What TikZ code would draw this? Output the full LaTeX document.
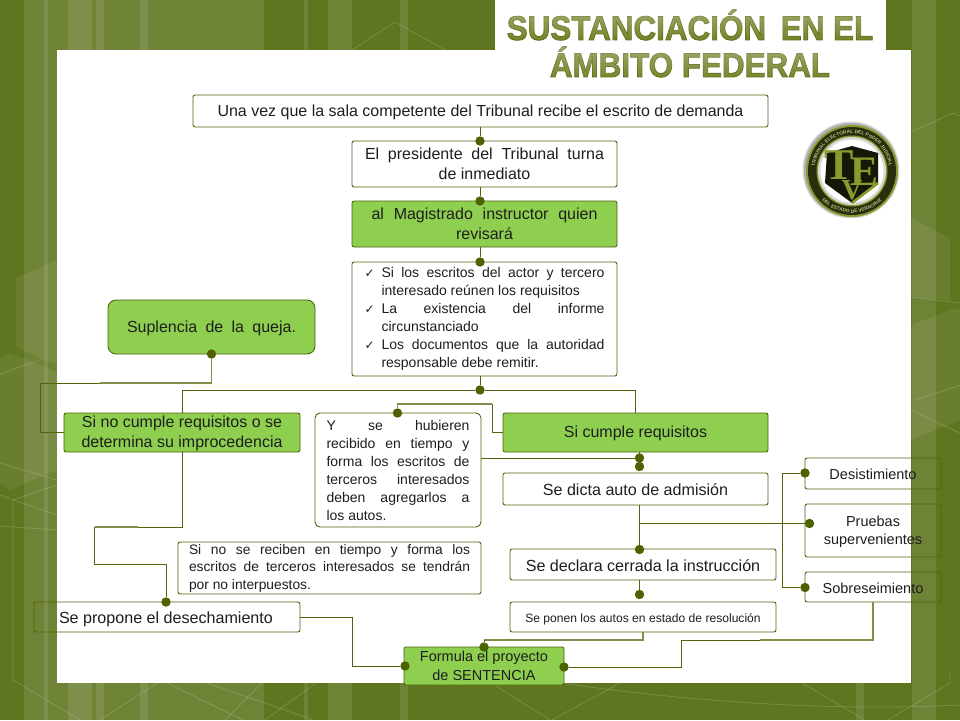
\documentclass[tikz,border=0pt]{standalone}
\usepackage{fontspec}
\setmainfont{Liberation Sans}
\newfontfamily\serifseal{Liberation Serif}
\newfontfamily\chkfont{DejaVu Sans}
\usetikzlibrary{fadings,decorations.text}
\definecolor{bgdark}{HTML}{5F7520}
\definecolor{boxgreen}{HTML}{8FCF50}
\definecolor{linkcol}{HTML}{50640C}
\definecolor{linklite}{HTML}{7F8F4A}
\definecolor{dotcol}{HTML}{4E6300}
\definecolor{txt}{HTML}{1E1E1E}
\definecolor{titlefill}{HTML}{76872A}
\definecolor{sealolive}{HTML}{8A9A2E}
\newcommand{\fs}[2]{\fontsize{#1}{#2}\selectfont}
\newcommand{\jl}[2]{\makebox[#1pt][s]{#2}}
\newcommand{\chk}{\makebox[17pt][l]{\chkfont\fontsize{12}{12}\selectfont ✓}}
\newcommand{\bx}[8][0]{%
  \pgfmathsetmacro{\bw}{#5-#3}\pgfmathsetmacro{\bh}{#6-#4}%
  \pgfmathsetmacro{\bcx}{(#3+#5)/2}\pgfmathsetmacro{\bcy}{(#4+#6)/2}%
  \node[#7,minimum width=\bw pt,minimum height=\bh pt] (#2) at (\bcx,\bcy) {};
  \node[#7,draw=none,fill=none,yshift=-#1pt] (#2t) at (\bcx,\bcy) {#8};}
\tikzset{
  anybox/.style={draw=linkcol,line width=0.9pt,rounded corners=2.2pt,inner sep=0pt,outer sep=0pt,align=center,text=txt},
  whitebox/.style={anybox,fill=white},
  greenbox/.style={anybox,fill=boxgreen},
  openbox/.style={anybox},
  link/.style={draw=linkcol,line width=0.9pt},
  linkl/.style={draw=linklite,line width=1.1pt},
  dot/.style={circle,fill=dotcol,minimum size=9.4pt,inner sep=0pt,outer sep=0pt},
  stripea/.style={fill=white,fill opacity=0.10,draw=none},
  faint/.style={draw=white,draw opacity=0.17,line width=0.8pt},
  hexa/.style={fill=white,fill opacity=0.07,draw=none},
  titletext/.style={text=titlefill,font=\fs{31.4}{31.4}\bfseries,inner sep=0pt}
}
\begin{document}
\begin{tikzpicture}[x=1pt,y=-1pt]
\useasboundingbox (0,0) rectangle (960,720);
% background
\fill[bgdark] (0,0) rectangle (960,720);
\fill[stripea] (24,0) rectangle (264,720);
\fill[stripea] (68,0) rectangle (92,720);
\fill[stripea] (96,0) rectangle (104,720);
\fill[stripea] (140,0) rectangle (148,720);
\fill[stripea] (44,0) rectangle (48,720);
\fill[stripea] (304,0) rectangle (308,720);
\fill[stripea] (328,0) rectangle (352,720);
\fill[stripea] (400,0) rectangle (408,720);
\fill[stripea] (856,0) rectangle (864,720);
\fill[stripea] (912,0) rectangle (936,720);
% faint hexagons and lines
\fill[hexa] (57,260) -- (16,278) -- (16,347) -- (57,365) -- cycle;
\fill[hexa] (10,353) -- (0,358) -- (0,483) -- (10,490) -- (57,470) -- (57,372) -- cycle;
\fill[hexa] (911,218) -- (950,238) -- (950,300) -- (911,297) -- cycle;
\fill[hexa] (911,325) -- (955,308) -- (960,310) -- (960,420) -- (911,440) -- cycle;
\draw[faint] (0,374) -- (42,359);
\draw[faint] (0,463) -- (57,480);
\draw[faint] (13,500) -- (57,485);
\draw[faint] (13,500) -- (13,680) -- (80,720);
\draw[faint] (0,526) -- (57,530);
\draw[faint] (0,495) -- (57,515);
\draw[faint] (911,132) -- (953,113) -- (960,116);
\draw[faint] (911,297) -- (960,303);
\draw[faint] (950,670) -- (950,683) -- (888,720);
\draw[faint] (915,400) -- (960,385);
\draw[faint] (911,410) -- (960,433);
\draw[faint] (100,720) -- (157,683);
\draw[faint] (167,683) -- (243,720);
\draw[faint] (207,683) -- (313,720);
\draw[faint] (225,720) -- (262,683);
\draw[faint] (265,720) -- (320,680);
\draw[faint] (480,676) -- (550,720);
\draw[faint] (552,720) -- (620,683);
\draw[faint] (802,683) -- (865,720);
\draw[faint] (560,683) .. controls (680,700) and (820,712) .. (960,705);
\draw[faint] (352,50) -- (395,22) -- (445,50);
% white panels
\fill[white] (57,50) rectangle (911,683);
\fill[white] (495,0) rectangle (886,50);
% title
\node[titletext] (title1) at (690,25) {\scalebox{1}[1.09]{\special{pdf:code 2 Tr 0.7 w 0.36 0.42 0.10 RG}SUSTANCIACIÓN\hspace{6pt} EN EL}};
\node[titletext] (title2) at (690,62) {\scalebox{1}[1.09]{\special{pdf:code 2 Tr 0.7 w 0.36 0.42 0.10 RG}ÁMBITO FEDERAL}};
\special{pdf:code 0 Tr}
\fill[white,fill opacity=0.30,path fading=south] (500,10) rectangle (880,38);
\fill[white,fill opacity=0.30,path fading=south] (500,47) rectangle (880,78);
% seal
\begin{scope}[shift={(852,171)},x=1pt,y=1pt]
  \fill[black!55,opacity=0.25] (-1,1) circle[radius=48.5pt];
  \fill[black!70,opacity=0.3] (-1,1) circle[radius=47.2pt];
  \fill[sealolive] (0,0) circle[radius=46pt];
  \fill[black!70!sealolive] (0,0) circle[radius=44pt];
  \fill[sealolive] (0,0) circle[radius=35.5pt];
  \fill[black!15] (0,0) circle[radius=34pt];
  \fill[white] (0,0) circle[radius=31.5pt];
  \fill[black!85!sealolive] (-25,18) -- (-27,-12) -- (0,-32) -- (26,-12) -- (26,18) -- (0,25) -- cycle;
  \draw[sealolive,line width=2.6pt] (0,-32) -- (26,-12);
  \node[text=sealolive,inner sep=0pt,font=\serifseal\bfseries\fs{44}{44}] (sealT) at (-13,6) {T};
  \node[text=sealolive,inner sep=0pt,font=\serifseal\bfseries\fs{42}{42}] (sealE) at (12,-1) {E};
  \node[text=sealolive,inner sep=0pt,font=\serifseal\bfseries\fs{29}{29}] (sealV) at (0,-19) {V};
  \path[decorate,decoration={text along path,text color=sealolive!60!white,text align=center,
    text={|\fs{4.8}{5}\bfseries|TRIBUNAL ELECTORAL DEL PODER JUDICIAL}}]
    (195:37.5pt) arc[start angle=195,end angle=-15,radius=37.5pt];
  \path[decorate,decoration={text along path,text color=sealolive!60!white,text align=center,
    text={|\fs{4.8}{5}\bfseries|DEL ESTADO DE VERACRUZ}}]
    (215:42pt) arc[start angle=215,end angle=325,radius=42pt];
\end{scope}
% boxes
\bx[1.5]{recibe}{193}{95}{768}{127}{whitebox,font=\fs{16}{20}}{Una vez que la sala competente del Tribunal recibe el escrito de demanda}
\bx{presidente}{352}{141}{617}{187}{whitebox,font=\fs{16}{20}}{\jl{239}{El presidente del Tribunal turna}\\de inmediato}
\bx{magistrado}{352}{201}{617}{247}{greenbox,font=\fs{16}{20}}{\jl{226}{al Magistrado instructor quien}\\revisará}
\bx{lista}{352}{262}{617}{376}{whitebox,font=\fs{14}{18},align=left}{\chk\jl{223}{Si los escritos del actor y tercero}\\\hspace*{17pt}interesado reúnen los requisitos\\\chk\jl{223}{La existencia del informe}\\\hspace*{17pt}circunstanciado\\\chk\jl{223}{Los documentos que la autoridad}\\\hspace*{17pt}responsable debe remitir.}
\bx[1]{suplencia}{108}{300}{315}{354}{greenbox,rounded corners=8pt,font=\fs{16}{20}}{\jl{169}{Suplencia de la queja.}}
\bx[1]{nocumple}{64}{413}{300}{452}{greenbox,font=\fs{16}{19.5}}{Si no cumple requisitos o se\\determina su improcedencia}
\bx{hubieren}{315}{413}{481}{527}{whitebox,rounded corners=5pt,font=\fs{14}{18},align=left}{\jl{143}{Y se hubieren}\\\jl{143}{recibido en tiempo y}\\\jl{143}{forma los escritos de}\\\jl{143}{terceros interesados}\\\jl{143}{deben agregarlos a}\\\makebox[143pt][l]{los autos.}}
\bx[1]{sicumple}{503}{413}{768}{452}{greenbox,font=\fs{16}{19}}{Si cumple requisitos}
\bx[1]{dicta}{503}{473}{768}{505}{whitebox,font=\fs{16.1}{20}}{Se dicta auto de admisión}
\bx{norecibe}{178}{542}{481}{594}{whitebox,font=\fs{13.8}{17.5},align=left}{\jl{281}{Si no se reciben en tiempo y forma los}\\\jl{281}{escritos de terceros interesados se tendrán}\\\makebox[281pt][l]{por no interpuestos.}}
\bx[1.5]{cerrada}{510}{549}{776}{580}{whitebox,font=\fs{16.1}{20}}{Se declara cerrada la instrucción}
\bx[2]{ponen}{510}{602}{776}{632}{whitebox,font=\fs{12.1}{14}}{Se ponen los autos en estado de resolución}
\bx[2]{desecha}{34}{602}{300}{632}{whitebox,fill=none,font=\fs{16.1}{20}}{\makebox[266pt][l]{\hspace*{25pt}Se propone el desechamiento}}
\bx{formula}{404}{647}{564}{685}{greenbox,font=\fs{14.5}{18.5}}{Formula el proyecto\\de SENTENCIA}
\bx[1]{desist}{805}{458}{941}{489}{openbox,font=\fs{14.5}{18}}{Desistimiento}
\bx[1.5]{pruebas}{805}{504}{941}{557}{openbox,font=\fs{14.5}{18}}{Pruebas\\supervenientes}
\bx[1]{sobre}{805}{572}{941}{602}{openbox,font=\fs{14.5}{18}}{Sobreseimiento}
% dots
\node[dot] (d1) at (480,141) {};
\node[dot] (d2) at (480,201) {};
\node[dot] (d3) at (480,262) {};
\node[dot] (d4) at (480,390) {};
\node[dot] (dsup) at (211.5,354) {};
\node[dot] (dhub) at (397.5,413) {};
\node[dot] (dsi) at (639.5,458) {};
\node[dot] (dad) at (639.5,466.5) {};
\node[dot] (dcer) at (639.5,549.5) {};
\node[dot] (dpon) at (639.5,594.5) {};
\node[dot] (dfor) at (484,647) {};
\node[dot] (dforr) at (564,667) {};
\node[dot] (dforl) at (405,666) {};
\node[dot] (ddes) at (166,602) {};
\node[dot] (dde) at (805,473) {};
\node[dot] (dpr) at (809.5,523.5) {};
\node[dot] (dso) at (805,587.5) {};
% junctions
\coordinate (hubr) at (481,458);
\coordinate (sib) at (639.5,452);
\coordinate (dib) at (639.5,505);
\coordinate (cerb) at (639.5,580);
\coordinate (prj) at (639.5,523.5);
\coordinate (desr) at (300,617);
\coordinate (nbr) at (782,473);
\coordinate (nbb) at (782,587.5);
% connectors
\draw[link] (recibe.south -| d1) -- (d1);
\draw[link] (presidente.south -| d2) -- (d2);
\draw[link] (magistrado.south -| d3) -- (d3);
\draw[link] (lista.south -| d4) -- (d4);
\draw[link] (nocumple.north) |- (d4);
\draw[link] (d4) -| (sicumple.north);
\draw[linkl] (dsup) |- (100,383);
\draw[link] (100,383) -- (40,383) |- (nocumple.west);
\draw[linkl] (dhub) |- (492,404);
\draw[link] (492,404) |- (sicumple.west);
\draw[link] (hubr) -- (dsi);
\draw[link] (sib) -- (dad);
\draw[link] (dib) -- (dcer);
\draw[link] (prj) -- (dpr);
\draw[link] (dde) -- (nbr) -- (nbb) -- (dso);
\draw[link] (cerb) -- (dpon);
\draw[linkl] (ponen.south) |- (484,640);
\draw[link] (484,640) -- (dfor);
\draw[linkl] (sobre.south) |- (760,640);
\draw[link] (760,640) -| (681,667) -- (dforr);
\draw[link] (nocumple.south) |- (138,527);
\draw[linkl] (138,527) -- (94.5,527);
\draw[link] (94.5,527) |- (166,564) -- (ddes);
\draw[link] (desr) -| (352,666) -- (dforl);
\end{tikzpicture}
\end{document}
